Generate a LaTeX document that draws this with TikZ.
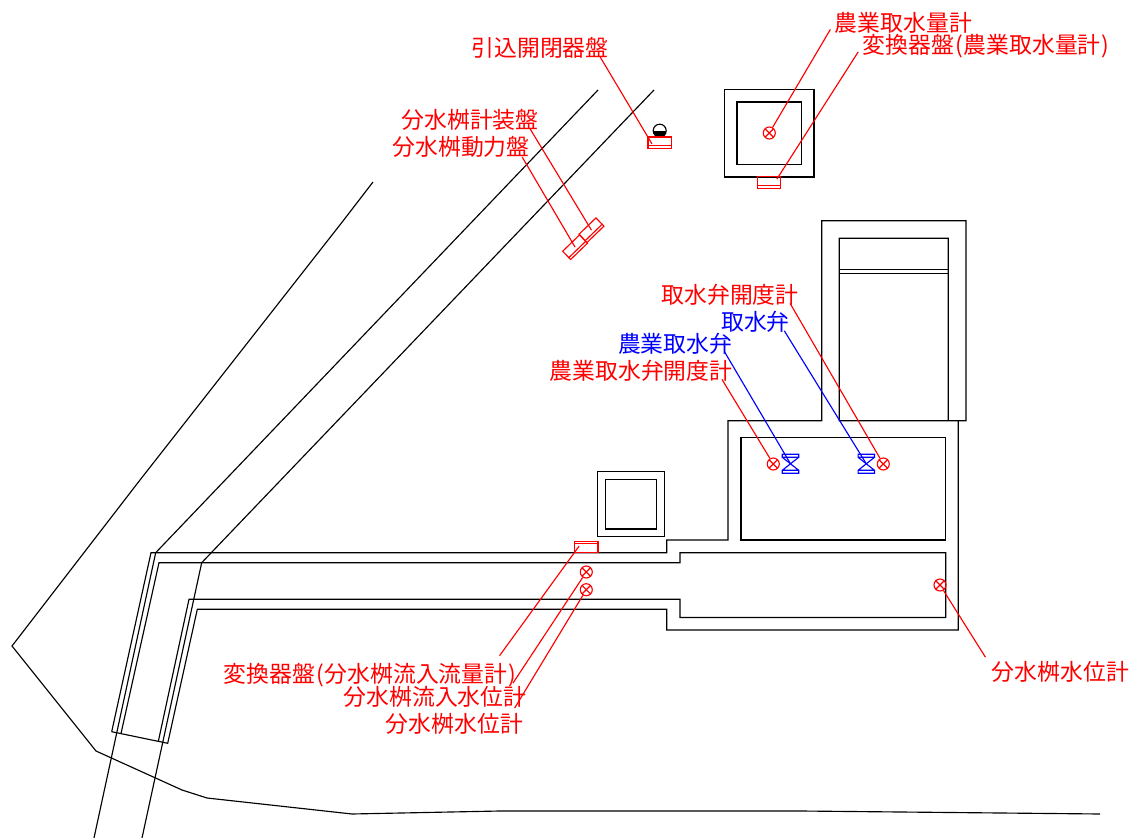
\documentclass[tikz,border=0pt]{standalone}
\usepackage{fontspec}
\setmainfont{Noto Sans CJK JP}
\usetikzlibrary{calc}
\begin{document}
\begin{tikzpicture}[x=.02cm,y=-.02cm,line width=.65pt]
    \tikzstyle{lblred}=[text=red,inner sep=0pt,text height=10.7pt,text depth=1pt,font=\fontsize{13pt}{14pt}\selectfont]
    \tikzstyle{lblblue}=[lblred,text=blue]
    \tikzstyle{leadred}=[red]
    \tikzstyle{leadblue}=[blue]
    \tikzstyle{meter}=[circle,draw=red,inner sep=0pt,minimum size=.24cm,path picture={
        \draw[red] (path picture bounding box.north west) -- (path picture bounding box.south east);
        \draw[red] (path picture bounding box.north east) -- (path picture bounding box.south west);
    }]
    \tikzstyle{panel}=[rectangle,draw=red,inner sep=0pt,minimum width=.47cm,minimum height=.23cm,append after command={
        ($(\tikzlastnode.south west)!.25!(\tikzlastnode.north west)$) edge[red] ($(\tikzlastnode.south east)!.25!(\tikzlastnode.north east)$)
    }]
    \tikzstyle{valve}=[rectangle,inner sep=0pt,minimum width=.36cm,minimum height=.42cm,path picture={
        \draw[blue,shift={(path picture bounding box.center)}] (-8.2,-9.5) rectangle (8.2,-6.5) (-8.2,6.5) rectangle (8.2,9.5) (-8.2,-6.5) -- (8.2,6.5) (8.2,-6.5) -- (-8.2,6.5);
    }]
    \useasboundingbox (0,0) rectangle (1134,838);

    \draw (373,182) -- (343,221) -- (140,480) -- (12,646) -- (96,751) -- (182,790) -- (207,798) -- (352,814) -- (500,811) -- (800,811) -- (1100,814);
    \draw (598,90) -- (155.7,552.7) -- (94,838);
    \draw (654,90) -- (201.7,562.7) -- (142,838);
    \draw (111.7,731.7) -- (151,552.7) -- (666.7,552.7) -- (666.7,540) -- (728,540) -- (728,420.7) -- (821.7,420.7) -- (821.7,220.7) -- (966,220.7) -- (966,420.7) -- (839.3,420.7) -- (839.3,238.3) -- (948.3,238.3) -- (948.3,420.7);
    \draw (958.3,420.7) -- (958.3,630) -- (666.7,630) -- (666.7,609.3) -- (197.3,609.3) -- (167.7,743.3) -- (111.7,731.7);
    \draw (121,733.5) -- (159,562.7) -- (680,562.7) -- (680,552.7) -- (945.7,552.7) -- (945.7,617.5) -- (680,617.5) -- (680,599.3) -- (189,599.3) -- (158.3,741.5);
    \draw (839.3,269.3) -- (948.3,269.3);
    \draw (839.3,273.3) -- (948.3,273.3);
    \draw (741,437.7) rectangle (945.7,540);
    \draw (724.3,89.3) rectangle (814,177);
    \draw (737,102) rectangle (801.3,164.3);
    \draw (597.7,471.7) rectangle (664.3,536.7);
    \draw (605.3,479.3) rectangle (656.7,529);

    \node[circle,draw=black,inner sep=0pt,minimum size=.26cm,path picture={
        \fill (path picture bounding box.west) rectangle (path picture bounding box.south east);
    }] (lamp) at (659.7,130.7) {};
    \node[panel] (panfeed) at (659.8,142.7) {};
    \node[panel] (panmeter) at (769,182.5) {};
    \node[panel,rotate=44] (paninst) at (591.5,230.2) {};
    \node[panel,rotate=44] (panpower) at (575.1,247.2) {};
    \node[panel,rotate=180] (panflow) at (586.2,547) {};

    \node[meter] (mtrintake) at (769.3,133) {};
    \node[meter] (mtrfarmopen) at (773.3,464) {};
    \node[meter] (mtropen) at (883.3,464) {};
    \node[meter] (mtrinflow) at (586.3,572) {};
    \node[meter] (mtrlevel) at (586.3,589.7) {};
    \node[meter] (mtrright) at (940,585) {};
    \node[valve] (vlvfarm) at (790.5,463.8) {};
    \node[valve] (vlvmain) at (866.3,463.8) {};

    \node[lblred] (lblfeed) at (540,48) {引込開閉器盤};
    \node[lblred] (lblintake) at (903.5,22.5) {農業取水量計};
    \node[lblred] (lblconv) at (986.5,45) {変換器盤\kern.5pt(\kern.5pt農業取水量計\kern.5pt)\kern.5pt};
    \node[lblred] (lblinst) at (470,120) {分水桝計装盤};
    \node[lblred] (lblpower) at (461,147) {分水桝動力盤};
    \node[lblred] (lblopen) at (730,294.5) {取水弁開度計};
    \node[lblblue] (lblvalve) at (755.5,322) {取水弁};
    \node[lblblue] (lblfarm) at (675.2,343.5) {農業取水弁};
    \node[lblred] (lblfarmopen) at (641,370.5) {農業取水弁開度計};
    \node[lblred] (lblflow) at (370.5,673.5) {変換器盤\kern.5pt(\kern.5pt分水桝流入流量計\kern.5pt)\kern.5pt};
    \node[lblred] (lblinflow) at (435,697) {分水桝流入水位計};
    \node[lblred] (lbllevel) at (454.5,724) {分水桝水位計};
    \node[lblred] (lblright) at (1060.5,672) {分水桝水位計};

    \draw[leadred,shorten >=-5pt] ($(lblfeed.south east)+(-9,-2)$) -- (panfeed.north west);
    \draw[leadred] ($(lblintake.south west)+(-4,-4)$) -- (mtrintake);
    \draw[leadred,shorten >=-2pt] ($(lblconv.south west)+(-4,-4)$) -- (panmeter.33);
    \draw[leadred] ($(lblinst.south east)+(-9,-2)$) -- (paninst.center);
    \draw[leadred] ($(lblpower.south east)+(-8,-1)$) -- (panpower.center);
    \draw[leadred] ($(lblopen.south east)+(-9,-2)$) -- (mtropen);
    \draw[leadblue] ($(lblvalve.south east)+(-6,-2)$) -- (vlvmain.center);
    \draw[leadblue] ($(lblfarm.south east)+(-8,-2)$) -- (vlvfarm.center);
    \draw[leadred] ($(lblfarmopen.south east)+(-11,-2)$) -- (mtrfarmopen);
    \draw[leadred,shorten >=-5pt] ($(lblflow.north east)+(-18,-7)$) -- (panflow.north east);
    \draw[leadred] ($(lblinflow.north east)+(-14,-3)$) -- (mtrinflow);
    \draw[leadred] ($(lbllevel.north east)+(-9,-5)$) -- (mtrlevel);
    \draw[leadred] ($(lblright.north west)+(-6,-4)$) -- (mtrright);
\end{tikzpicture}
\end{document}
